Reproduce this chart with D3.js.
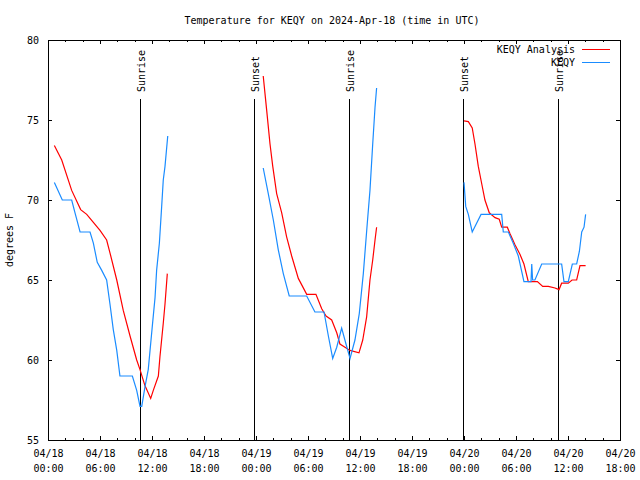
<!DOCTYPE html>
<html><head><meta charset="utf-8">
<script src="https://cdn.jsdelivr.net/npm/d3@7"></script>
<style>
body{margin:0;background:#fff}
svg{display:block}
text{font-family:"DejaVu Sans Mono",monospace;font-size:10px;fill:#000}
</style>
</head><body><svg id="c" width="640" height="480"></svg>
<script>
// ---------- data ----------
const titleText = "Temperature for KEQY on 2024-Apr-18 (time in UTC)";
const yAxisLabel = "degrees F";
const seriesNames = ["KEQY Analysis", "KEQY"];

const xStart = "04-18 00:00", xEnd = "04-20 18:00";
const yMin = 55, yMax = 80;
const yTickValues = [55, 60, 65, 70, 75, 80];

// KEQY Analysis (red), three segments
const anaT1 = ["04-18 00:44","04-18 01:35","04-18 02:44","04-18 03:46","04-18 04:28","04-18 05:14","04-18 06:00","04-18 06:46","04-18 07:09","04-18 07:56","04-18 08:41","04-18 09:28","04-18 10:14","04-18 10:37","04-18 11:11","04-18 11:51","04-18 12:09","04-18 12:44","04-18 12:55","04-18 13:18","04-18 13:30","04-18 13:46"];
const anaV1 = [73.4,72.5,70.6,69.4,69.1,68.6,68.1,67.5,66.7,65.0,63.1,61.5,60.0,59.4,58.4,57.6,58.1,59.0,60.2,62.3,63.5,65.4];
const anaT2 = ["04-19 00:50","04-19 01:14","04-19 01:37","04-19 01:56","04-19 02:23","04-19 02:58","04-19 03:32","04-19 04:07","04-19 04:53","04-19 05:51","04-19 06:55","04-19 07:35","04-19 08:05","04-19 08:44","04-19 09:19","04-19 09:41","04-19 10:16","04-19 10:51","04-19 11:53","04-19 12:19","04-19 12:46","04-19 13:09","04-19 13:28","04-19 13:44","04-19 13:55"];
const anaV2 = [77.75,75.6,73.5,72.1,70.4,69.2,67.7,66.5,65.1,64.1,64.1,63.2,62.75,62.5,61.7,61.0,60.8,60.6,60.45,61.25,62.7,65.0,66.25,67.5,68.3];
const anaT3 = ["04-20 00:00","04-20 00:30","04-20 00:57","04-20 01:16","04-20 01:39","04-20 02:03","04-20 02:25","04-20 02:55","04-20 03:35","04-20 04:04","04-20 04:21","04-20 05:00","04-20 05:18","04-20 05:53","04-20 06:28","04-20 06:55","04-20 07:25","04-20 08:28","04-20 09:05","04-20 09:44","04-20 10:30","04-20 10:58","04-20 11:16","04-20 12:02","04-20 12:28","04-20 13:00","04-20 13:23","04-20 14:02"];
const anaV3 = [74.94,74.9,74.5,73.5,72.1,71.0,70.0,69.2,68.9,68.8,68.3,68.3,67.9,67.2,66.6,66.0,64.9,64.9,64.6,64.6,64.5,64.4,64.8,64.8,65.0,65.0,65.9,65.9];

// KEQY observations (blue), three segments
const obsT1 = ["04-18 00:44","04-18 01:39","04-18 02:44","04-18 03:07","04-18 03:42","04-18 04:51","04-18 05:14","04-18 05:41","04-18 06:12","04-18 06:46","04-18 07:09","04-18 07:32","04-18 07:56","04-18 08:18","04-18 08:41","04-18 09:44","04-18 10:14","04-18 10:37","04-18 10:49","04-18 11:11","04-18 11:34","04-18 12:02","04-18 12:21","04-18 12:32","04-18 12:51","04-18 13:07","04-18 13:18","04-18 13:30","04-18 13:49"];
const obsV1 = [71.1,70.0,70.0,69.2,68.0,68.0,67.3,66.1,65.6,65.0,63.5,61.9,60.6,59.0,59.0,59.0,58.1,57.1,57.1,58.3,59.4,62.1,63.9,65.6,67.3,69.6,71.25,72.1,74.0];
const obsT2 = ["04-19 00:50","04-19 01:25","04-19 02:00","04-19 02:34","04-19 03:09","04-19 03:50","04-19 05:51","04-19 06:48","04-19 07:51","04-19 08:21","04-19 08:51","04-19 09:19","04-19 09:53","04-19 10:23","04-19 10:51","04-19 11:25","04-19 11:55","04-19 12:23","04-19 12:50","04-19 13:09","04-19 13:28","04-19 13:44","04-19 13:55"];
const obsV2 = [72.0,70.4,68.75,66.9,65.4,64.0,64.0,63.0,63.0,61.5,60.1,60.8,62.0,61.0,60.1,61.25,62.9,65.4,68.5,70.6,73.5,75.8,77.0];
const obsT3 = ["04-20 00:00","04-20 00:12","04-20 00:30","04-20 00:57","04-20 01:58","04-20 04:21","04-20 04:32","04-20 05:07","04-20 05:41","04-20 06:16","04-20 06:55","04-20 07:44","04-20 07:49","04-20 07:55","04-20 08:11","04-20 08:58","04-20 09:32","04-20 11:16","04-20 11:32","04-20 12:02","04-20 12:30","04-20 13:00","04-20 13:19","04-20 13:35","04-20 13:51","04-20 14:02"];
const obsV3 = [71.1,69.6,69.1,68.0,69.1,69.1,68.0,68.0,67.3,66.5,64.9,64.9,66.0,65.0,65.0,66.0,66.0,66.0,64.9,64.9,66.0,66.0,66.8,68.0,68.3,69.1];

// sun events
const eventTimes = ["04-18 10:37","04-18 23:48","04-19 10:46","04-19 23:55","04-20 10:53"];
const eventLabels = ["Sunrise","Sunset","Sunrise","Sunset","Sunrise"];

// ---------- styles ----------
const colors = {"KEQY Analysis": "#ff0000", "KEQY": "#1a8cff"};

// ---------- build ----------
const parse = d3.utcParse("%Y-%m-%d %H:%M");
const p = s => parse("2024-" + s);
const zip = (ts, vs) => ts.map((t, i) => ({t: p(t), v: vs[i]}));
const series = [
  {name: "KEQY Analysis", segs: [zip(anaT1, anaV1), zip(anaT2, anaV2), zip(anaT3, anaV3)]},
  {name: "KEQY", segs: [zip(obsT1, obsV1), zip(obsT2, obsV2), zip(obsT3, obsV3)]}
];

const L = 48, R = 620, T = 40, B = 440;
const svg = d3.select("#c");
const x = d3.scaleUtc().domain([p(xStart), p(xEnd)]).range([L, R]);
const y = d3.scaleLinear().domain([yMin, yMax]).range([B, T]);

// title
svg.append("text").attr("x", 332).attr("y", 24).attr("text-anchor", "middle").text(titleText);
// y label
svg.append("text").attr("transform", "translate(13,240) rotate(-90)").attr("text-anchor", "middle").text(yAxisLabel);

// ticks
const major = d3.utcHour.every(6).range(p(xStart), d3.utcMinute.offset(p(xEnd), 1));
const minor = d3.utcHour.every(2).range(p(xStart), d3.utcMinute.offset(p(xEnd), 1));

function axisStyle(g) {
  g.select(".domain").remove();
  g.selectAll("line").attr("stroke", "#000").attr("shape-rendering", "crispEdges");
}
// bottom minor/major
svg.append("g").attr("transform", `translate(0,${B})`)
  .call(d3.axisBottom(x).tickValues(minor).tickSize(-2).tickFormat(""))
  .call(axisStyle);
const xb = svg.append("g").attr("transform", `translate(0,${B})`)
  .call(d3.axisBottom(x).tickValues(major).tickSize(-4).tickPadding(0).tickFormat(d => ""))
  .call(axisStyle);
xb.selectAll(".tick").each(function(d) {
  const t = d3.select(this).select("text").attr("y", null).attr("dy", null).attr("fill", "#000")
    .style("font-family", "DejaVu Sans Mono").style("font-size", "10px");
  t.append("tspan").attr("x", 0).attr("y", 17).text(d3.utcFormat("%m/%d")(d));
  t.append("tspan").attr("x", 0).attr("y", 32).text(d3.utcFormat("%H:%M")(d));
});
// top mirrored
svg.append("g").attr("transform", `translate(0,${T})`)
  .call(d3.axisTop(x).tickValues(minor).tickSize(-2).tickFormat(""))
  .call(axisStyle);
svg.append("g").attr("transform", `translate(0,${T})`)
  .call(d3.axisTop(x).tickValues(major).tickSize(-4).tickFormat(""))
  .call(axisStyle);
// left
const yl = svg.append("g").attr("transform", `translate(${L},0)`)
  .call(d3.axisLeft(y).tickValues(yTickValues).tickSize(-4).tickPadding(9).tickFormat(d3.format("d")))
  .call(axisStyle);
yl.selectAll("text").attr("fill", "#000").style("font-family", "DejaVu Sans Mono").style("font-size", "10px");
// right
svg.append("g").attr("transform", `translate(${R},0)`)
  .call(d3.axisRight(y).tickValues(yTickValues).tickSize(-4).tickFormat(""))
  .call(axisStyle);

// border
svg.append("rect").attr("x", L).attr("y", T).attr("width", R - L).attr("height", B - T)
  .attr("fill", "none").attr("stroke", "#000").attr("shape-rendering", "crispEdges");

// sun event lines
eventTimes.forEach((et, i) => {
  const ex = Math.round(x(p(et))) + 0.5;
  svg.append("line").attr("x1", ex).attr("x2", ex).attr("y1", 99).attr("y2", B)
    .attr("stroke", "#000").attr("shape-rendering", "crispEdges");
  svg.append("text").attr("transform", `translate(${ex + 4},92) rotate(-90)`).text(eventLabels[i]);
});

// series lines
const line = d3.line().x(d => x(d.t)).y(d => y(d.v));
series.forEach(s => {
  s.segs.forEach(seg => {
    svg.append("path").datum(seg).attr("d", line)
      .attr("fill", "none").attr("stroke", colors[s.name]).attr("stroke-width", 1.2);
  });
});

// legend
series.forEach((s, i) => {
  const ly = 49 + i * 13;
  svg.append("text").attr("x", 575).attr("y", ly + 4).attr("text-anchor", "end").text(s.name);
  svg.append("line").attr("x1", 582).attr("x2", 610).attr("y1", ly + 0.5).attr("y2", ly + 0.5)
    .attr("stroke", colors[s.name]).attr("stroke-width", 1).attr("shape-rendering", "crispEdges");
});
</script>
</body></html>
